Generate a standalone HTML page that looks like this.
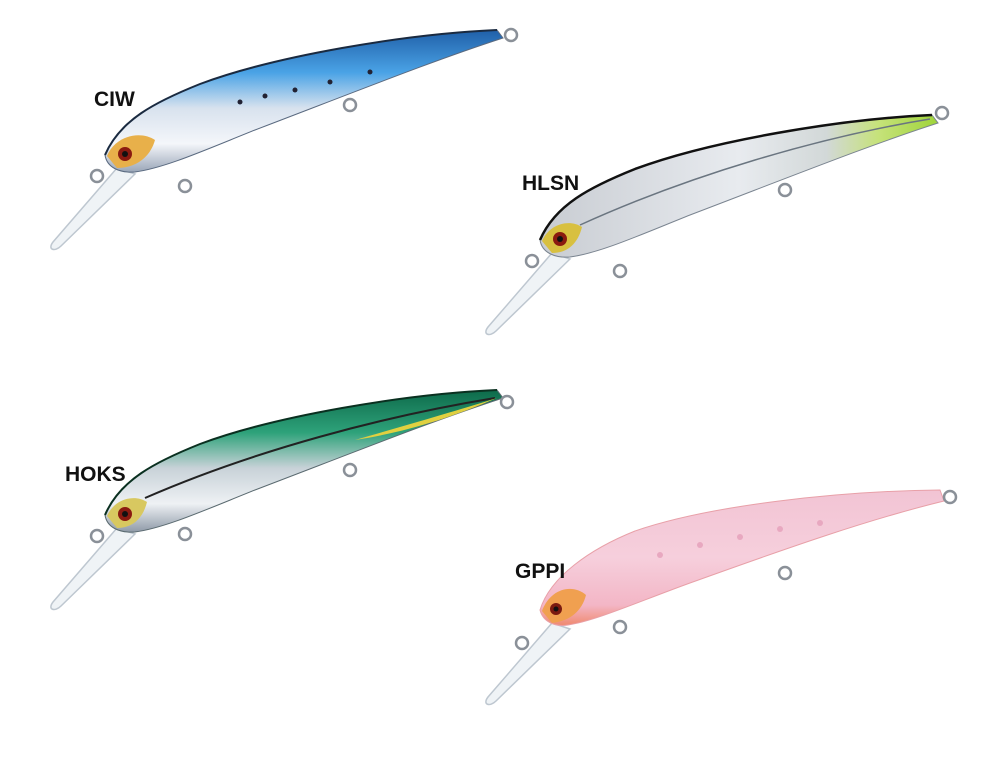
<!DOCTYPE html>
<html><head><meta charset="utf-8"><style>
html,body{margin:0;padding:0;background:#fff;}
svg{display:block}
text{font-family:"Liberation Sans",sans-serif;font-weight:bold;font-size:21px;fill:#111;}
</style></head><body>
<svg width="1000" height="763" viewBox="0 0 1000 763" xmlns="http://www.w3.org/2000/svg">
<defs>
<linearGradient id="g1" x1="0" y1="0" x2="0" y2="1">
<stop offset="0" stop-color="#1f5fa8"/><stop offset="0.3" stop-color="#4aa3e6"/><stop offset="0.55" stop-color="#d8e2ee"/><stop offset="0.8" stop-color="#f4f6fa"/><stop offset="1" stop-color="#9aa6b8"/></linearGradient>
<linearGradient id="g2" x1="0" y1="0" x2="1" y2="0">
<stop offset="0" stop-color="#c8ccd2"/><stop offset="0.5" stop-color="#e8ebef"/><stop offset="0.72" stop-color="#d2d8d8"/><stop offset="0.85" stop-color="#c6e27a"/><stop offset="1" stop-color="#9fd43a"/></linearGradient>
<linearGradient id="g3" x1="0" y1="0" x2="0" y2="1">
<stop offset="0" stop-color="#0d6a4a"/><stop offset="0.3" stop-color="#2ea27a"/><stop offset="0.55" stop-color="#c8d2d8"/><stop offset="0.8" stop-color="#eef1f4"/><stop offset="1" stop-color="#8f9aa8"/></linearGradient>
<linearGradient id="g4" x1="0" y1="0" x2="0" y2="1">
<stop offset="0" stop-color="#f2c4d4"/><stop offset="0.5" stop-color="#f6cfdc"/><stop offset="0.85" stop-color="#f3b6c6"/><stop offset="1" stop-color="#f08a70"/></linearGradient>
<g id="lip"><path d="M12,8 L-52,82 C-58,90 -50,92 -44,86 L30,14 Z" fill="#eef2f6" stroke="#b8c2cc" stroke-width="1.5" opacity="0.9"/></g>
<g id="ring"><circle r="6" fill="none" stroke="#8a9098" stroke-width="2.5"/></g>
<path id="body" d="M0,-5 C15,-40 50,-58 95,-76 C170,-104 300,-126 392,-130 L398,-122 C330,-100 260,-72 150,-30 C100,-10 60,8 30,12 C15,13 2,8 0,-5Z"/>
<path id="back" d="M0,-5 C15,-40 50,-58 95,-76 C170,-104 300,-126 392,-130"/>
</defs>

<g transform="translate(105,160)">
<use href="#lip"/>
<use href="#body" fill="url(#g1)" stroke="#5a6a80" stroke-width="1"/>
<use href="#back" fill="none" stroke="#1a2a40" stroke-width="2"/>
<path d="M2,-4 C10,-24 35,-30 50,-20 C45,-2 30,8 12,8 Z" fill="#e8b04a"/>
<circle cx="20" cy="-6" r="7" fill="#8a1a10"/><circle cx="20" cy="-6" r="3" fill="#111"/>
<g fill="#223"><circle cx="135" cy="-58" r="2.5"/><circle cx="160" cy="-64" r="2.5"/><circle cx="190" cy="-70" r="2.5"/><circle cx="225" cy="-78" r="2.5"/><circle cx="265" cy="-88" r="2.5"/></g>
<use href="#ring" x="80" y="26"/><use href="#ring" x="245" y="-55"/><use href="#ring" x="406" y="-125"/>
<use href="#ring" x="-8" y="16"/>
</g>
<text x="94" y="106">CIW</text>

<g transform="translate(540,245)">
<use href="#lip"/>
<use href="#body" fill="url(#g2)" stroke="#7a8490" stroke-width="1"/>
<use href="#back" fill="none" stroke="#111" stroke-width="2.5"/>
<path d="M40,-20 C150,-70 280,-108 390,-126" fill="none" stroke="#6a7580" stroke-width="1.5"/>
<path d="M2,-4 C10,-22 30,-26 42,-18 C38,-2 28,8 12,8 Z" fill="#d8c040"/>
<circle cx="20" cy="-6" r="7" fill="#8a1a10"/><circle cx="20" cy="-6" r="3" fill="#111"/>
<use href="#ring" x="80" y="26"/><use href="#ring" x="245" y="-55"/><use href="#ring" x="402" y="-132"/>
<use href="#ring" x="-8" y="16"/>
</g>
<text x="522" y="190">HLSN</text>

<g transform="translate(105,520)">
<use href="#lip"/>
<use href="#body" fill="url(#g3)" stroke="#5a6a70" stroke-width="1"/>
<use href="#back" fill="none" stroke="#0a3020" stroke-width="2"/>
<path d="M40,-22 C150,-70 280,-104 390,-122" fill="none" stroke="#222" stroke-width="2"/>
<path d="M250,-80 C320,-100 360,-112 392,-122 C340,-100 300,-88 250,-80Z" fill="#e0d040"/>
<path d="M2,-4 C10,-22 30,-26 42,-18 C38,-2 28,8 12,8 Z" fill="#d8c860"/>
<circle cx="20" cy="-6" r="7" fill="#8a1a10"/><circle cx="20" cy="-6" r="3" fill="#111"/>
<use href="#ring" x="80" y="14"/><use href="#ring" x="245" y="-50"/><use href="#ring" x="402" y="-118"/>
<use href="#ring" x="-8" y="16"/>
</g>
<text x="65" y="481">HOKS</text>

<g transform="translate(540,615)">
<use href="#lip"/>
<path d="M0,-5 C10,-38 50,-66 95,-84 C170,-110 300,-124 400,-125 L404,-114 C330,-96 250,-68 150,-32 C95,-12 55,6 28,10 C15,12 3,7 0,-5Z" fill="url(#g4)" stroke="#e8a0a8" stroke-width="1"/>
<path d="M2,-4 C10,-26 32,-32 46,-20 C42,-4 30,6 12,8 Z" fill="#f0a050"/>
<circle cx="16" cy="-6" r="6" fill="#7a1a10"/><circle cx="16" cy="-6" r="2.5" fill="#111"/>
<g fill="#e8a8c0"><circle cx="120" cy="-60" r="3"/><circle cx="160" cy="-70" r="3"/><circle cx="200" cy="-78" r="3"/><circle cx="240" cy="-86" r="3"/><circle cx="280" cy="-92" r="3"/></g>
<use href="#ring" x="80" y="12"/><use href="#ring" x="245" y="-42"/><use href="#ring" x="410" y="-118"/>
<use href="#ring" x="-18" y="28"/>
</g>
<text x="515" y="578">GPPI</text>
</svg>
</body></html>
